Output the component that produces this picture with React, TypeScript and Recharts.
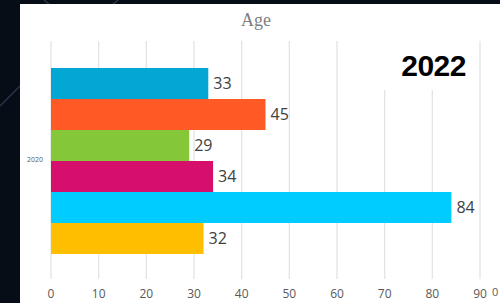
import React from 'react'
import { BarChart, Bar, XAxis, YAxis, CartesianGrid, LabelList } from 'recharts'

// chart values
const categories = ['2020']
const seriesKeys = ['a', 'b', 'c', 'd', 'e', 'f']
const seriesValues = [33, 45, 29, 34, 84, 32]
const seriesColors = ['#02a8d3', '#ff5a26', '#84c83a', '#d60f6d', '#00ccff', '#ffbf00']
const xTicks = [0, 10, 20, 30, 40, 50, 60, 70, 80, 90]

const data = categories.map((name) => {
  const row: Record<string, string | number> = { name }
  seriesKeys.forEach((k, i) => {
    row[k] = seriesValues[i]
  })
  return row
})

const tickFont = "'Open Sans', 'Noto Sans', sans-serif"

export default function App() {
  return (
    <div
      style={{
        position: 'fixed',
        left: 0,
        top: 0,
        width: 500,
        height: 303,
        background: '#070d17',
        overflow: 'hidden',
      }}
    >
      <svg width={500} height={303} style={{ position: 'absolute', left: 0, top: 0 }}>
        <line x1={0} y1={106} x2={22} y2={84} stroke="#2b3a55" strokeWidth={1.2} />
        <line x1={44} y1={0} x2={50} y2={5} stroke="#2b3a55" strokeWidth={1.2} />
        <line x1={118} y1={0} x2={112} y2={5} stroke="#2b3a55" strokeWidth={1.2} />
      </svg>
      <div
        style={{
          position: 'absolute',
          left: 20,
          top: 4,
          width: 480,
          height: 299,
          background: '#ffffff',
        }}
      >
        <BarChart
          width={480}
          height={299}
          data={data}
          layout="vertical"
          margin={{ top: 37, right: 20, bottom: 0, left: 0 }}
          barCategoryGap={27}
          barGap={0}
        >
          <CartesianGrid horizontal={false} stroke="#e4e4e4" strokeWidth={1.3} />
          <XAxis
            type="number"
            domain={[0, 90]}
            ticks={xTicks}
            axisLine={false}
            tickLine={false}
            tickSize={0}
            tickMargin={10}
            height={24}
            tick={{ fontSize: 12, fill: '#595959', fontFamily: tickFont }}
          />
          <YAxis
            type="category"
            dataKey="name"
            width={31}
            axisLine={false}
            tickLine={false}
            tick={{ fontSize: 7, fill: '#595959', fontFamily: tickFont }}
          />
          {seriesKeys.map((k, i) => (
            <Bar key={k} dataKey={k} fill={seriesColors[i]} isAnimationActive={false}>
              <LabelList
                dataKey={k}
                position="right"
                offset={5}
                style={{ fontSize: 16, fill: '#404040', fontFamily: tickFont }}
              />
            </Bar>
          ))}
        </BarChart>
        <div
          style={{
            position: 'absolute',
            left: 200,
            width: 72,
            top: 6,
            textAlign: 'center',
            fontFamily: "'Liberation Serif', 'DejaVu Serif', serif",
            fontSize: 18,
            color: '#7f7f7f',
          }}
        >
          Age
        </div>
        <div
          style={{
            position: 'absolute',
            left: 322,
            top: 37,
            width: 124,
            height: 49,
            background: '#ffffff',
            textAlign: 'right',
            fontFamily: "'Liberation Sans', Arial, sans-serif",
            fontWeight: 700,
            fontSize: 30,
            lineHeight: '49px',
            color: '#000000',
            letterSpacing: -0.5,
          }}
        >
          2022
        </div>
        <div
          style={{
            position: 'absolute',
            left: 472,
            top: 280,
            fontFamily: tickFont,
            fontSize: 11,
            color: '#595959',
          }}
        >
          0
        </div>
      </div>
    </div>
  )
}
